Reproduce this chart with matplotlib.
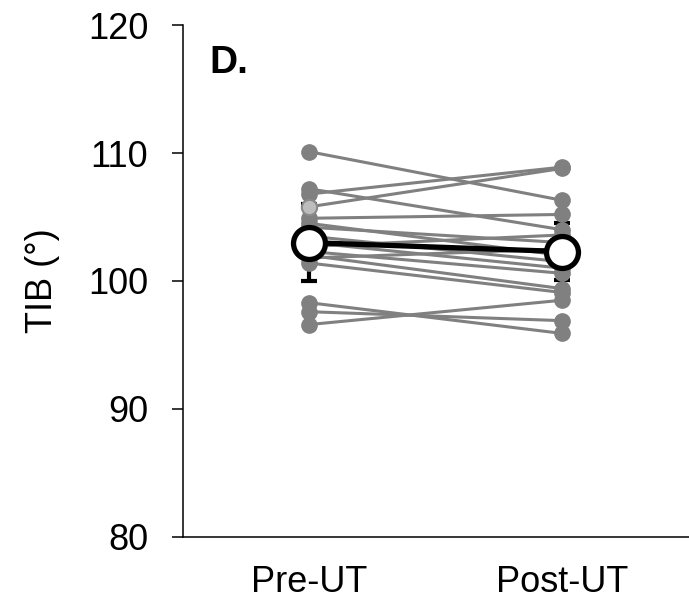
import numpy as np
import matplotlib
matplotlib.use('Agg')
import matplotlib.pyplot as plt

plt.rcParams['font.family'] = ['Liberation Sans', 'DejaVu Sans']

# individual subjects, TIB (deg)
conditions = ['Pre-UT', 'Post-UT']
tib_pre = [110.1, 107.2, 106.8, 105.8, 104.9, 104.5, 104.2, 103.5, 103.0,
           102.7, 102.3, 102.0, 101.8, 101.4, 98.3, 97.6, 96.6]
tib_post = [106.3, 104.0, 108.9, 108.8, 105.2, 102.0, 103.0, 101.5, 101.0,
            103.6, 100.6, 99.4, 102.5, 99.1, 95.9, 96.9, 98.5]
# group mean and SD
tib_mean = [103.0, 102.3]
tib_sd = [3.0, 2.2]
highlight = 3  # lighter point in pre column

fig = plt.figure(figsize=(6.89, 6.03), dpi=100)
ax = fig.add_axes([0.2656, 0.1095, 0.7344, 0.849])

x = np.arange(len(conditions))
for i in range(len(tib_pre)):
    ax.plot(x, [tib_pre[i], tib_post[i]], color='#808080', linewidth=2.2,
            marker='o', markersize=11, markerfacecolor='#808080',
            markeredgecolor='#808080', zorder=3)
ax.plot(x[0], tib_pre[highlight], marker='o', markersize=11, linestyle='',
        markerfacecolor='#bdbdbd', markeredgecolor='#8a8a8a',
        markeredgewidth=1.5, zorder=4)

# error bars (behind subject points)
ax.errorbar(x, tib_mean, yerr=tib_sd, fmt='none', ecolor='black',
            elinewidth=3, capsize=6, capthick=3, zorder=2)
ax.plot(x, tib_mean, color='black', linewidth=3.8, zorder=5)
ax.plot(x, tib_mean, linestyle='', marker='o', markersize=23,
        markerfacecolor='white', markeredgecolor='black',
        markeredgewidth=3.8, zorder=6)

ax.set_xlim(-0.5, 1.5)
ax.set_ylim(80, 120)
ax.set_yticks([80, 90, 100, 110, 120])
ax.set_xticks(x)
ax.set_xticklabels(conditions)
ax.tick_params(axis='y', direction='out', length=8, width=1.1,
               labelsize=26, pad=17)
ax.tick_params(axis='x', length=0, labelsize=26, pad=20)

ax.spines['top'].set_visible(False)
ax.spines['right'].set_visible(False)
ax.spines['left'].set_linewidth(1.1)
ax.spines['bottom'].set_linewidth(1.1)

ax.set_ylabel('TIB (°)', fontsize=26, labelpad=20)
ax.text(0.053, 0.925, 'D.', transform=ax.transAxes, fontsize=28,
        fontweight='bold', va='center', ha='left')

fig.savefig('out.png', dpi=100)
